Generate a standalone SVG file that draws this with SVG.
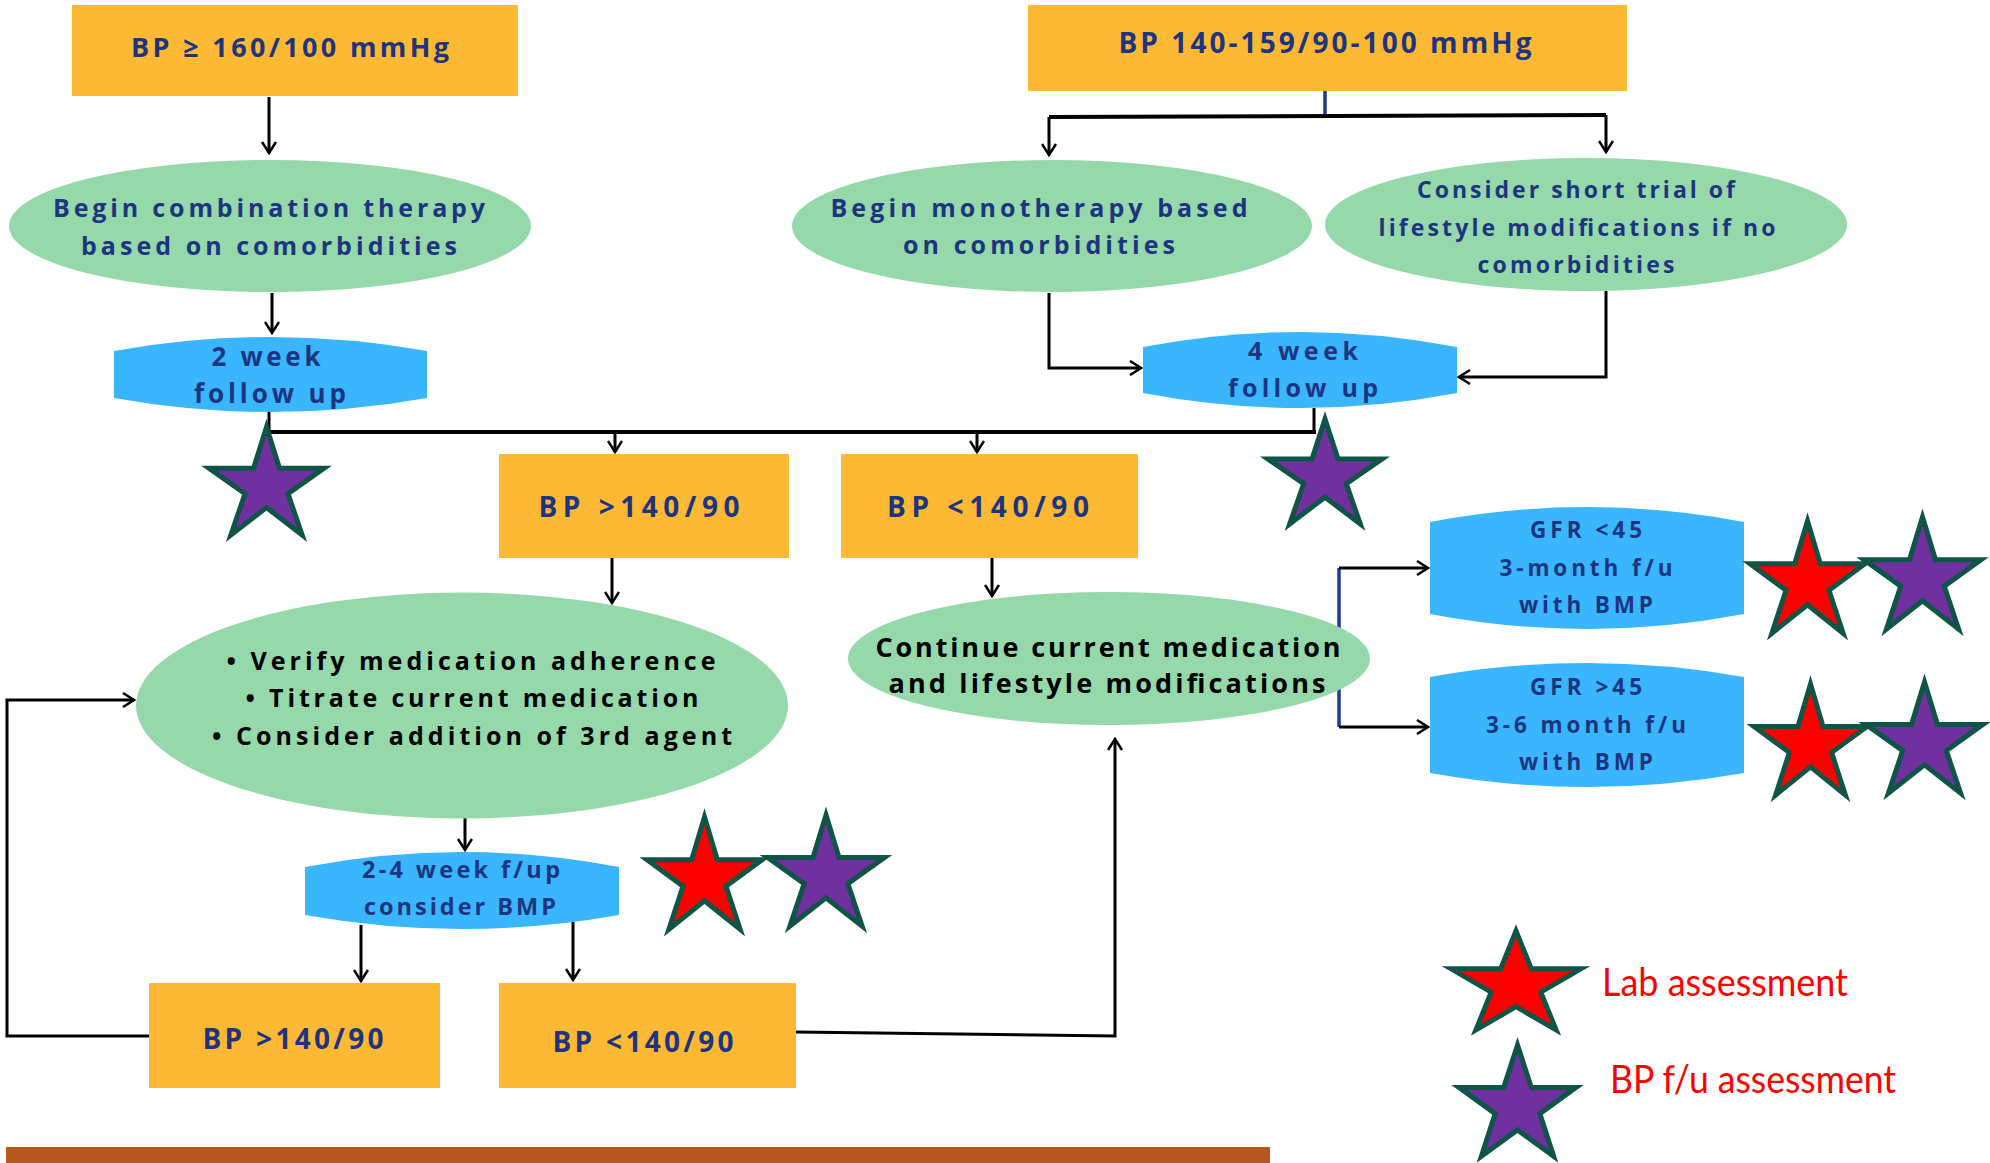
<svg xmlns="http://www.w3.org/2000/svg" width="1990" height="1163" viewBox="0 0 1990 1163">
<style>
.box{fill:#FDB933}
.ell{fill:#95D8A9}
.blu{fill:#39B6FD}
.t{font-family:"Open Sans","Noto Sans","Liberation Sans",sans-serif;font-weight:700;fill:#1D3580;text-anchor:middle}
.k{fill:#000}
.leg{font-family:Lato,"Liberation Sans",sans-serif;fill:#FF0000}
.ln{fill:none;stroke:#000;stroke-width:3}
.thick{stroke-width:4}
.navy{fill:none;stroke:#1F3A93;stroke-width:3.5}
.arr{marker-end:url(#arr)}
.red{fill:#FF0000}
.pur{fill:#7030A0}
.st{stroke:#0E5447;stroke-width:5;stroke-linejoin:miter}
</style>
<defs>
<marker id="arr" markerUnits="userSpaceOnUse" viewBox="0 0 14 16" refX="12" refY="8" markerWidth="14" markerHeight="16" orient="auto">
<path d="M1,1 L12,8 L1,15" fill="none" stroke="#000" stroke-width="2.5"/>
</marker>
</defs>
<rect x="0" y="0" width="1990" height="1163" fill="#fff"/>

<g id="connectors">
<path class="ln arr" d="M269,97 V153"/>
<path class="ln arr" d="M272,293 V333"/>
<path class="navy" d="M1325,91 V116"/>
<path class="ln thick" d="M1049,117 L1606,115"/>
<path class="ln arr" d="M1049,117 V155"/>
<path class="ln arr" d="M1606,115 V152"/>
<path class="ln arr" d="M1049,293 V368 H1141"/>
<path class="ln arr" d="M1606,291 V377 H1459"/>
<path class="ln" d="M269,412 V432"/>
<path class="ln" d="M1314,408 V432"/>
<path class="ln thick" d="M267,432 H1316"/>
<path class="ln arr" d="M615,432 V452"/>
<path class="ln arr" d="M977,432 V452"/>
<path class="ln arr" d="M612,558 V603"/>
<path class="ln arr" d="M992,558 V596"/>
<path class="ln arr" d="M465,818 V850"/>
<path class="ln arr" d="M361,925 V981"/>
<path class="ln arr" d="M573,922 V980"/>
<path class="ln arr" d="M149,1036 H7 V700 H134"/>
<path class="ln arr" d="M796,1032 L1115,1036 V739"/>
<path class="navy" d="M1339,568 V727"/>
<path class="ln arr" d="M1339,568 H1428"/>
<path class="ln arr" d="M1339,727 H1428"/>
</g>

<g id="bp-high">
<rect class="box" x="72" y="5" width="446" height="91"/>
<text class="t" x="290" y="57" font-size="27" textLength="318">BP ≥ 160/100 mmHg</text>
</g>
<g id="combination-therapy">
<ellipse class="ell" cx="270" cy="226" rx="261" ry="66"/>
<text class="t" x="269" y="217" font-size="25" textLength="432">Begin combination therapy</text>
<text class="t" x="269" y="255" font-size="25" textLength="376">based on comorbidities</text>
</g>
<g id="two-week">
<path class="blu" d="M114,351 Q270.5,323 427,351 L427,398 Q270.5,426 114,398 Z"/>
<text class="t" x="266" y="366" font-size="26" textLength="109">2 week</text>
<text class="t" x="270" y="403" font-size="26" textLength="152">follow up</text>
</g>
<g id="bp-mid">
<rect class="box" x="1028" y="5" width="599" height="86"/>
<text class="t" x="1325" y="53" font-size="28" textLength="413">BP 140-159/90-100 mmHg</text>
</g>
<g id="monotherapy">
<ellipse class="ell" cx="1052" cy="226" rx="260" ry="66"/>
<text class="t" x="1039" y="217" font-size="25" textLength="417">Begin monotherapy based</text>
<text class="t" x="1039" y="254" font-size="25" textLength="272">on comorbidities</text>
</g>
<g id="lifestyle-trial">
<ellipse class="ell" cx="1586" cy="224.5" rx="261" ry="66.5"/>
<text class="t" x="1576" y="198" font-size="23" textLength="318">Consider short trial of</text>
<text class="t" x="1577" y="236" font-size="23" textLength="397">lifestyle modifications if no</text>
<text class="t" x="1576" y="273" font-size="23" textLength="197">comorbidities</text>
</g>
<g id="four-week">
<path class="blu" d="M1143,347 Q1300,317 1457,347 L1457,393 Q1300,423 1143,393 Z"/>
<text class="t" x="1303" y="360" font-size="25" textLength="110">4 week</text>
<text class="t" x="1303" y="397" font-size="25" textLength="150">follow up</text>
</g>
<g id="bp-over-1">
<rect class="box" x="499" y="454" width="290" height="104"/>
<text class="t" x="639" y="517" font-size="28" textLength="201">BP &gt;140/90</text>
</g>
<g id="bp-under-1">
<rect class="box" x="841" y="454" width="297" height="104"/>
<text class="t" x="988" y="517" font-size="28" textLength="202">BP &lt;140/90</text>
</g>
<g id="verify">
<ellipse class="ell" cx="462" cy="705.5" rx="326" ry="113"/>
<text class="t k" x="471" y="670" font-size="25" textLength="489">• Verify medication adherence</text>
<text class="t k" x="472" y="707" font-size="25" textLength="453">• Titrate current medication</text>
<text class="t k" x="472" y="745" font-size="25" textLength="520">• Consider addition of 3rd agent</text>
</g>
<g id="continue">
<ellipse class="ell" cx="1109" cy="658.5" rx="261" ry="66.5"/>
<text class="t k" x="1108" y="657" font-size="27" textLength="465">Continue current medication</text>
<text class="t k" x="1107" y="693" font-size="27" textLength="437">and lifestyle modifications</text>
</g>
<g id="gfr-low">
<path class="blu" d="M1430,522 Q1587,492 1744,522 L1744,614 Q1587,644 1430,614 Z"/>
<text class="t" x="1586" y="538" font-size="22.5" textLength="112">GFR &lt;45</text>
<text class="t" x="1586" y="576" font-size="22.5" textLength="173">3-month f/u</text>
<text class="t" x="1586" y="613" font-size="22.5" textLength="134">with BMP</text>
</g>
<g id="gfr-high">
<path class="blu" d="M1430,677 Q1587,649 1744,677 L1744,773 Q1587,801 1430,773 Z"/>
<text class="t" x="1586" y="695" font-size="22.5" textLength="112">GFR &gt;45</text>
<text class="t" x="1586" y="733" font-size="22.5" textLength="200">3-6 month f/u</text>
<text class="t" x="1586" y="770" font-size="22.5" textLength="134">with BMP</text>
</g>
<g id="two-four-week">
<path class="blu" d="M305,867 Q462,837 619,867 L619,915 Q462,943 305,915 Z"/>
<text class="t" x="461" y="878" font-size="23.5" textLength="198">2-4 week f/up</text>
<text class="t" x="460" y="915" font-size="23.5" textLength="192">consider BMP</text>
</g>
<g id="bp-over-2">
<rect class="box" x="149" y="983" width="291" height="105"/>
<text class="t" x="293" y="1049" font-size="28" textLength="181">BP &gt;140/90</text>
</g>
<g id="bp-under-2">
<rect class="box" x="499" y="983" width="297" height="105"/>
<text class="t" x="643" y="1052" font-size="28" textLength="181">BP &lt;140/90</text>
</g>

<g id="stars">
<polygon class="st pur" points="266.5,427 279.5,468.3 324,468.3 288,493.7 302.1,535 266.5,507.5 230.9,535 245,493.7 209,468.3 253.5,468.3"/>
<polygon class="st pur" points="1325,419 1338,459.1 1382.1,459.1 1346.3,483.8 1360.3,523.9 1325,497.2 1289.7,523.9 1303.7,483.8 1267.9,459.1 1312,459.1"/>
<polygon class="st red" points="1807.5,521 1820.3,563.8 1865,563.8 1829,590.3 1843.1,633.2 1807.5,604.7 1771.9,633.2 1786,590.3 1750,563.8 1794.7,563.8"/>
<polygon class="st pur" points="1922.5,517 1935.5,559.8 1981,559.8 1944.3,586.3 1958.6,629.2 1922.5,600.7 1886.4,629.2 1900.7,586.3 1864,559.8 1909.5,559.8"/>
<polygon class="st red" points="1810.5,684 1823,726.4 1867,726.4 1831.6,752.6 1845.4,795.1 1810.5,766.9 1775.6,795.1 1789.4,752.6 1754,726.4 1798,726.4"/>
<polygon class="st pur" points="1924.5,682 1937.5,724.4 1983,724.4 1946.3,750.6 1960.6,793.1 1924.5,764.9 1888.4,793.1 1902.7,750.6 1866,724.4 1911.5,724.4"/>
<polygon class="st red" points="704.5,817 717.3,859.8 762,859.8 726,886.3 740.1,929.2 704.5,900.7 668.9,929.2 683,886.3 647,859.8 691.7,859.8"/>
<polygon class="st pur" points="826,815 839,857.4 884.5,857.4 847.8,883.6 862.1,926.1 826,897.9 789.9,926.1 804.2,883.6 767.5,857.4 813,857.4"/>
</g>

<g id="legend">
<polygon class="st red" points="1516,931 1531.3,968.8 1581,968.8 1540.8,992.2 1556.1,1030 1516,1006.6 1475.9,1030 1491.2,992.2 1451,968.8 1500.7,968.8"/>
<polygon class="st pur" points="1517.5,1045 1531.3,1087.4 1576,1087.4 1539.8,1113.6 1553.6,1156.1 1517.5,1129.9 1481.4,1156.1 1495.2,1113.6 1459,1087.4 1503.7,1087.4"/>
<text class="leg" x="1602" y="996" font-size="39" textLength="246" lengthAdjust="spacingAndGlyphs">Lab assessment</text>
<text class="leg" x="1610" y="1093" font-size="39" textLength="286" lengthAdjust="spacingAndGlyphs">BP f/u assessment</text>
</g>

<rect id="bottom-bar" x="6" y="1147" width="1264" height="16" fill="#B5581F"/>
</svg>
